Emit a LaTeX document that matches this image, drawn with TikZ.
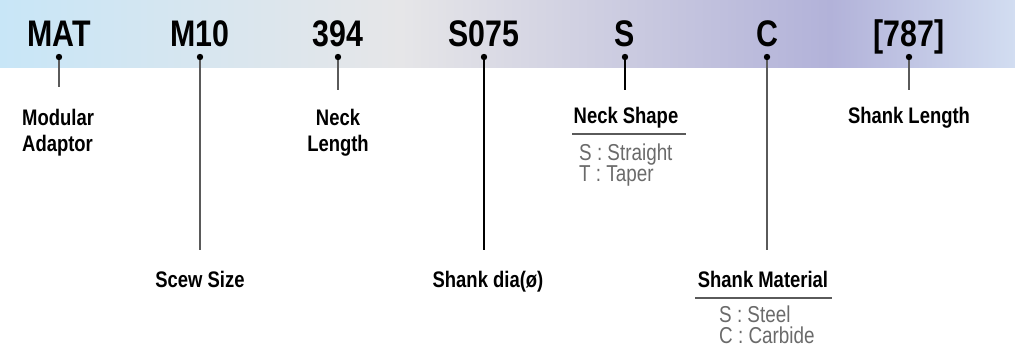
\documentclass[tikz,border=0pt]{standalone}
\usepackage{fontspec}
\setmainfont{Liberation Sans}
\newfontfamily\narrowfont{Liberation Sans}[FakeStretch=0.82]
\definecolor{bandA}{HTML}{C8E6F7}
\definecolor{bandB}{HTML}{E6E6E8}
\definecolor{bandC}{HTML}{B2B2D9}
\definecolor{bandD}{HTML}{D2DDF1}
\definecolor{linegray}{HTML}{5A5A5A}
\definecolor{optgray}{HTML}{6A6A6A}
\begin{document}
\begin{tikzpicture}[x=1pt,y=-1pt,
  code/.style={anchor=base,inner sep=0pt,font=\narrowfont\bfseries\fontsize{37}{40}\selectfont},
  lbl/.style={inner sep=0pt,font=\narrowfont\bfseries\fontsize{22.5}{26}\selectfont},
  opt/.style={anchor=base west,inner sep=0pt,text=optgray,font=\narrowfont\fontsize{23}{24}\selectfont},
  leader/.style={draw=linegray,line width=1.5pt},
  leaderdark/.style={draw=black,line width=1.3pt},
  dotmark/.style={fill=black},
  rulebar/.style={draw=linegray,line width=1.2pt}]
\useasboundingbox (0,0) rectangle (1015,353);
% gradient band
\shade[left color=bandA,right color=bandB] (0,0) rectangle (401,68);
\shade[left color=bandB,right color=bandC] (400,0) rectangle (831,68);
\shade[left color=bandC,right color=bandD] (830,0) rectangle (1015,68);
% codes
\node[code] (c1) at (59,47) {MAT};
\node[code] (c2) at (200,47) {M10};
\node[code] (c3) at (338,47) {394};
\node[code] (c4) at (484,47) {S075};
\node[code] (c5) at (625,47) {S};
\node[code] (c6) at (767,47) {C};
\node[code] (c7) at (909,47) {[787]};
% dots and leader ends
\coordinate (d1) at (59,57);  \coordinate (e1) at (59,87);
\coordinate (d2) at (200,57); \coordinate (e2) at (200,250);
\coordinate (d3) at (338,57); \coordinate (e3) at (338,90);
\coordinate (d4) at (484,57); \coordinate (e4) at (484,250);
\coordinate (d5) at (625,57); \coordinate (e5) at (625,90);
\coordinate (d6) at (767,57); \coordinate (e6) at (767,250);
\coordinate (d7) at (909,57); \coordinate (e7) at (909,90);
\draw[leader] (d1) -- (e1);
\draw[leader] (d2) -- (e2);
\draw[leader] (d3) -- (e3);
\draw[leaderdark] (d4) -- (e4);
\draw[leaderdark] (d5) -- (e5);
\draw[leader] (d6) -- (e6);
\draw[leader] (d7) -- (e7);
\foreach \i in {1,...,7} \fill[dotmark] (d\i) circle (3.2pt);
% labels
\node[lbl,anchor=base west,align=left] (l1) at (22,151) {Modular\\Adaptor};
\node[lbl,anchor=base,align=center] (l3) at (338,151) {Neck\\Length};
\node[lbl,anchor=base] (l5) at (626,123) {Neck Shape};
\node[lbl,anchor=base] (l7) at (909,123) {Shank Length};
\node[lbl,anchor=base] (l2) at (200,287) {Scew Size};
\node[lbl,anchor=base] (l4) at (488,287) {Shank dia(ø)};
\node[lbl,anchor=base] (l6) at (763,287) {Shank Material};
% option lists
\coordinate (r5a) at (572,134); \coordinate (r5b) at (686,134);
\draw[rulebar] (r5a) -- (r5b);
\node[opt] (o5a) at (579,160) {S : Straight};
\node[opt] (o5b) at (579,181) {T : Taper};
\coordinate (r6a) at (695,298); \coordinate (r6b) at (832,298);
\draw[rulebar] (r6a) -- (r6b);
\node[opt] (o6a) at (719,322) {S : Steel};
\node[opt] (o6b) at (719,343) {C : Carbide};
\end{tikzpicture}
\end{document}
